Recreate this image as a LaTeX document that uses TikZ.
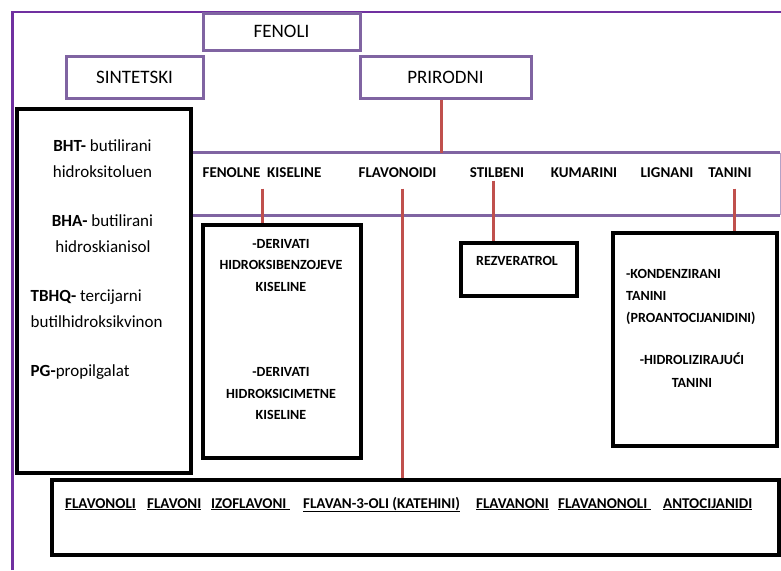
\documentclass[tikz,border=0pt]{standalone}
\usepackage{fontspec}
\setmainfont{Carlito}
\definecolor{ljub}{HTML}{8064A2}
\definecolor{okvir}{HTML}{7030A0}
\definecolor{crvena}{HTML}{C0504D}
\begin{document}
\begin{tikzpicture}[x=1pt,y=-1pt,
    ljubokvir/.style={draw=ljub,line width=3pt,font=\fontsize{19}{22}\selectfont},
    crniokvir/.style={draw=black,line width=3.5pt,fill=white},
    natpis/.style={font=\bfseries\fontsize{15}{18}\selectfont,anchor=base},
    sitno/.style={font=\bfseries\fontsize{14}{17}\selectfont,inner sep=0pt}]
	\useasboundingbox (0,0) rectangle (781,570);
	\fill[white] (0,0) rectangle (781,570);
	\draw[okvir,line width=2.5pt] (12.5,570) -- (12.5,12) -- (781,12);

	\begin{scope}[every node/.style={ljubokvir}]
		\node[minimum width=157pt,minimum height=37pt] (F) at (281.5,31.5) {FENOLI};
		\node[minimum width=137pt,minimum height=42pt] (S) at (134.5,77) {SINTETSKI};
		\node[minimum width=171pt,minimum height=42pt] (P) at (445.5,77) {PRIRODNI};
	\end{scope}

	% traka s prirodnim fenolima
	\node[minimum width=588pt,minimum height=62pt,inner sep=0pt] (band) at (486,184) {};
	\draw[ljub,line width=3pt] (band.north west) -- (band.north east) (band.south west) -- (band.south east);
	\draw[ljub!60,line width=1pt] (band.north east) -- (band.south east);

	\begin{scope}[every node/.style={crniokvir}]
		\node[minimum width=174pt,minimum height=364pt] (L) at (104,291) {};
		\node[minimum width=158pt,minimum height=233pt] (D) at (282,341.5) {};
		\node[minimum width=116pt,minimum height=53pt] (R) at (519,269.5) {};
		\node[minimum width=164pt,minimum height=213pt] (T) at (695,339.5) {};
		\node[minimum width=727pt,minimum height=75pt] (B) at (415.5,517.5) {};
	\end{scope}

	\node[natpis] (fk) at (262,177) {FENOLNE\ \ KISELINE};
	\node[natpis] (fl) at (397.5,177) {FLAVONOIDI};
	\node[natpis] (st) at (497,177) {STILBENI};
	\node[natpis] (ku) at (584,177) {KUMARINI};
	\node[natpis] (li) at (667,177) {LIGNANI};
	\node[natpis] (ta) at (730,177) {TANINI};

	\begin{scope}[every edge/.style={draw=crvena,line width=3pt}]
		\path ([xshift=-4.5pt]P.south) edge ([xshift=-4.5pt]P.south |- band.north);
		\path ([yshift=-8pt]fk.south) edge (fk.south |- D.north);
		\path ([xshift=4.5pt,yshift=-8pt]fl.south) edge ([xshift=4.5pt]fl.south |- B.north);
		\path ([xshift=-4pt]st.south) edge ([xshift=-4pt]st.south |- R.north);
		\path ([xshift=4pt,yshift=-8pt]ta.south) edge ([xshift=4pt]ta.south |- T.north);
	\end{scope}

	% sintetski antioksidansi
	\begin{scope}[every node/.style={font=\fontsize{17}{20}\selectfont,inner sep=0pt}]
		\node[anchor=base] (bht) at (102.5,151) {\textbf{BHT-} butilirani};
		\node[anchor=base] (bht2) at (102.5,177) {hidroksitoluen};
		\node[anchor=base] (bha) at (102.5,226) {\textbf{BHA-} butilirani};
		\node[anchor=base] (bha2) at (103,252) {hidroskianisol};
		\node[anchor=base west] (tb) at (30.5,301) {\textbf{TBHQ-} tercijarni};
		\node[anchor=base west] (tb2) at (30.5,327) {butilhidroksikvinon};
		\node[anchor=base west] (pg) at (30.5,376) {\textbf{PG-}propilgalat};
	\end{scope}

	\foreach \y/\t [count=\i] in {248/-DERIVATI,269/HIDROKSIBENZOJEVE,291/KISELINE,376/-DERIVATI,398/HIDROKSICIMETNE,419/KISELINE}
		\node[sitno,anchor=base] (d\i) at (281,\y) {\t};
	\node[sitno,anchor=base] (rez) at (517,265) {REZVERATROL};
	\foreach \y/\t [count=\i] in {278/-KONDENZIRANI,300/TANINI,322/{(PROANTOCIJANIDINI)}}
		\node[sitno,anchor=base west] (k\i) at (626,\y) {\t};
	\foreach \y/\t [count=\i] in {364/-HIDROLIZIRAJUĆI,387/TANINI}
		\node[sitno,anchor=base] (h\i) at (692,\y) {\t};

	% podskupine flavonoida
	\foreach \x/\t [count=\i] in {65/FLAVONOLI,147/FLAVONI,211/IZOFLAVONI\ ,303/FLAVAN-3-OLI (KATEHINI),476/FLAVANONI,558/FLAVANONOLI\ ,663/ANTOCIJANIDI}
		\node[natpis,anchor=base west,inner sep=0pt] (s\i) at (\x,508) {\underline{\t}};
\end{tikzpicture}
\end{document}
